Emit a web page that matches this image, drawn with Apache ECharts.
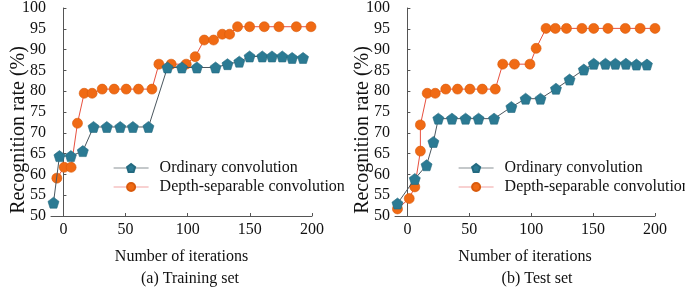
<!DOCTYPE html>
<html><head><meta charset="utf-8">
<script src="https://cdn.jsdelivr.net/npm/echarts@6/dist/echarts.min.js"></script>
<style>html,body{margin:0;padding:0;background:#fff}#c{width:685px;height:288px}</style>
</head><body><div id="c"></div>
<script>
// ---- data ----
const xTicks = [0, 50, 100, 150, 200];
const yTicks = [50, 55, 60, 65, 70, 75, 80, 85, 90, 95, 100];
const seriesNames = ['Ordinary convolution', 'Depth-separable convolution'];
const panelTitles = ['(a) Training set', '(b) Test set'];
const xTitle = 'Number of iterations';
const yTitle = 'Recognition rate (%)';

// (a) training set
const trainOrdIter = [-8, -3.2, 6, 15.6, 24.2, 34.9, 45.7, 55.9, 68.4, 83.7, 95.3, 107.4, 122.4, 132, 141.5, 149.8, 160, 167.8, 176.1, 184, 192.8];
const trainOrdVal  = [53.2, 64.4, 64.4, 65.6, 71.4, 71.4, 71.4, 71.4, 71.4, 85.7, 85.7, 85.7, 85.7, 86.5, 87.1, 88.35, 88.35, 88.35, 88.35, 88.0, 88.0];
const trainDepIter = [-5.3, 0.6, 6.2, 11.3, 16.7, 23.1, 31.2, 40.8, 50.5, 60.4, 71.2, 76.8, 86.7, 98.8, 106, 113.3, 120.8, 127.8, 133.7, 140.1, 149.8, 161.6, 173.4, 187.4, 199.2];
const trainDepVal  = [59.1, 61.7, 61.7, 72.3, 79.5, 79.5, 80.5, 80.5, 80.5, 80.5, 80.5, 86.5, 86.5, 86.5, 88.3, 92.3, 92.3, 93.7, 93.7, 95.5, 95.5, 95.5, 95.5, 95.5, 95.5];

// (b) test set
const testOrdIter = [-8, 6, 15.5, 21, 25, 36, 47, 57.5, 70, 84, 95.5, 107.5, 120, 131, 142.5, 150.5, 160, 168, 176.5, 185, 193.5];
const testOrdVal  = [53.0, 58.9, 62.2, 67.8, 73.4, 73.4, 73.4, 73.4, 73.4, 76.2, 78.2, 78.2, 80.6, 82.8, 85.2, 86.6, 86.6, 86.6, 86.6, 86.4, 86.4];
const testDepIter = [-8, 1.5, 6, 10.5, 10.5, 16, 22.5, 31, 40.5, 50.5, 60.5, 71, 77, 86.5, 99, 104, 112, 119.5, 128.5, 141, 150.5, 162, 176, 188, 200];
const testDepVal  = [51.7, 54.2, 57.0, 65.6, 71.9, 79.5, 79.5, 80.5, 80.5, 80.5, 80.5, 80.5, 86.5, 86.5, 86.5, 90.3, 95.1, 95.1, 95.1, 95.1, 95.1, 95.1, 95.1, 95.1, 95.1];

// ---- chart ----
const FONT = "'Liberation Serif', 'Times New Roman', 'DejaVu Serif', serif";
const blue = '#2b7a93', orange = '#f06a14';
const blueLine = '#4a565e', orangeLine = '#e8503f';
const pent = 'path://M0,-1L0.951,-0.309L0.588,0.809L-0.588,0.809L-0.951,-0.309Z';
const zip = (a, b) => a.map((v, i) => [v, b[i]]);

const grids = [
  {left: 51, top: 7, width: 261, height: 209},
  {left: 395, top: 7, width: 260, height: 209}
];
function xAxis(i) {
  return {
    type: 'value', gridIndex: i, min: -10, max: 200,
    name: xTitle, nameLocation: 'middle', nameGap: 33,
    nameTextStyle: {fontFamily: FONT, fontSize: 16, color: '#111'},
    axisLine: {show: true, lineStyle: {color: '#555', width: 1}},
    axisTick: {show: true, inside: true, length: 3, customValues: xTicks, lineStyle: {color: '#555'}},
    axisLabel: {customValues: xTicks, fontFamily: FONT, fontSize: 16, color: '#111', margin: 6},
    splitLine: {show: false}
  };
}
function yAxis(i) {
  return {
    type: 'value', gridIndex: i, min: 50, max: 100, interval: 5,
    axisLine: {show: true, lineStyle: {color: '#555', width: 1}},
    axisTick: {show: true, inside: true, length: 3, lineStyle: {color: '#555'}},
    axisLabel: {fontFamily: FONT, fontSize: 16, color: '#111', margin: 5,
      formatter: v => yTicks.includes(v) ? String(v) : ''},
    splitLine: {show: false}
  };
}
function ser(name, idx, data, isDep) {
  return {
    name: name, type: 'line', xAxisIndex: idx, yAxisIndex: idx, data: data,
    symbol: isDep ? 'circle' : pent, symbolSize: isDep ? 10 : 11,
    itemStyle: {color: isDep ? orange : blue, borderColor: isDep ? '#d95a0c' : '#236a80', borderWidth: 0.6},
    lineStyle: {color: isDep ? orangeLine : blueLine, width: 1},
    animation: false, z: isDep ? 2 : 3
  };
}
const legendData = [
  {name: seriesNames[0], lineStyle: {color: '#8a9296', width: 1.2}},
  {name: seriesNames[1], lineStyle: {color: '#f2a3a3', width: 1.2}}
];
function legend(left) {
  return {
    orient: 'vertical', left: left, top: 155, itemWidth: 35, itemHeight: 10, itemGap: 3,
    data: legendData,
    textStyle: {fontFamily: FONT, fontSize: 16, color: '#111', padding: [0, 0, 0, 6]}
  };
}
function yName(x) {
  return {type: 'text', x: x, y: 130, rotation: Math.PI / 2,
    style: {text: yTitle, fontFamily: FONT, fontSize: 20, fill: '#111', textAlign: 'center', textVerticalAlign: 'middle'}};
}
const chart = echarts.init(document.getElementById('c'), null, {renderer: 'canvas'});
chart.setOption({
  backgroundColor: '#fff',
  animation: false,
  textStyle: {fontFamily: FONT},
  grid: grids,
  xAxis: [xAxis(0), xAxis(1)],
  yAxis: [yAxis(0), yAxis(1)],
  legend: [legend(108), legend(453)],
  series: [
    ser(seriesNames[0], 0, zip(trainOrdIter, trainOrdVal), false),
    ser(seriesNames[1], 0, zip(trainDepIter, trainDepVal), true),
    ser(seriesNames[0], 1, zip(testOrdIter, testOrdVal), false),
    ser(seriesNames[1], 1, zip(testDepIter, testDepVal), true)
  ],
  graphic: [
    yName(19), yName(363),
    {type: 'text', x: 190, y: 279, style: {text: panelTitles[0], fontFamily: FONT, fontSize: 16, fill: '#111', textAlign: 'center', textVerticalAlign: 'middle'}},
    {type: 'text', x: 537, y: 279, style: {text: panelTitles[1], fontFamily: FONT, fontSize: 16, fill: '#111', textAlign: 'center', textVerticalAlign: 'middle'}}
  ]
});
</script></body></html>
